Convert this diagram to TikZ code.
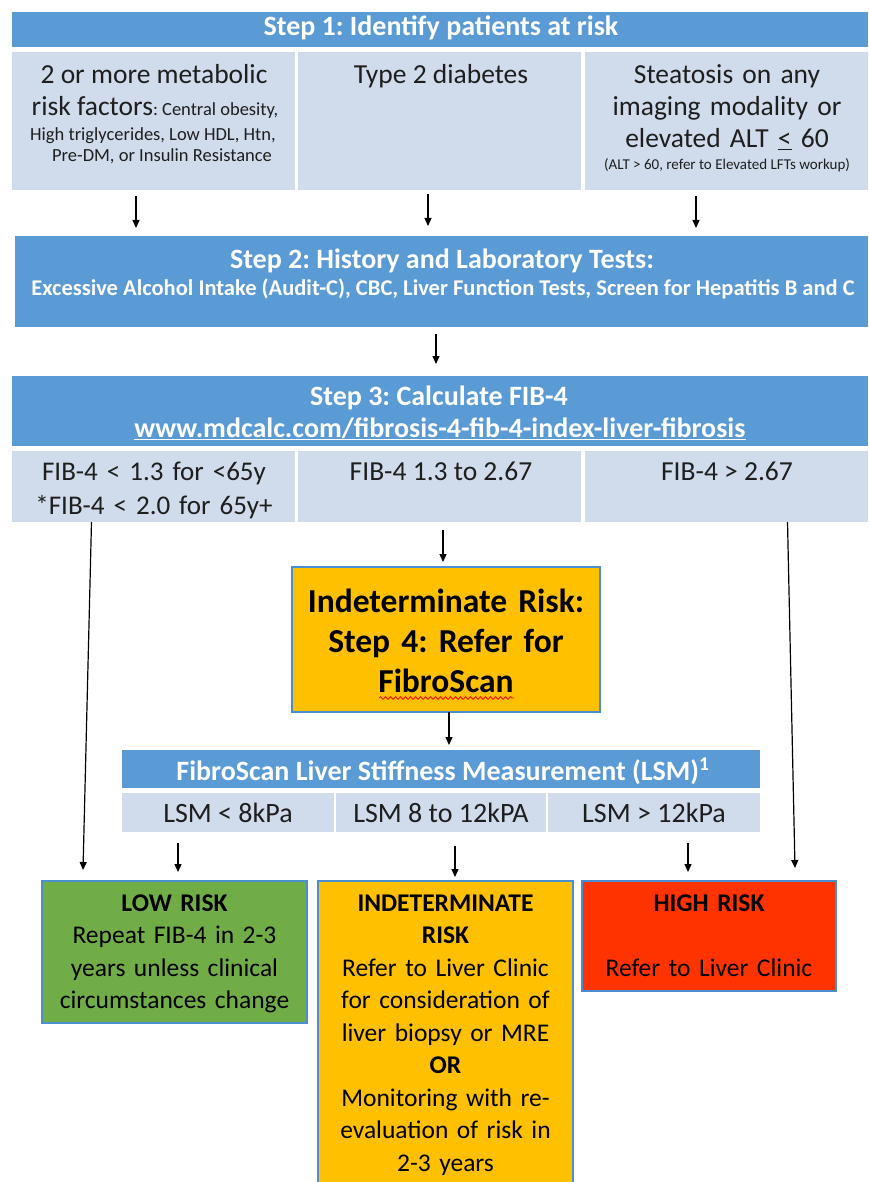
\documentclass[tikz,border=0pt]{standalone}
\usepackage{fontspec}
\setmainfont{Carlito}
\usetikzlibrary{arrows.meta,decorations.pathmorphing,fit}
\definecolor{hdr}{HTML}{5B9BD5}
\definecolor{cell}{HTML}{D0DCEC}
\definecolor{amber}{HTML}{FFC000}
\definecolor{lowgreen}{HTML}{70AD47}
\definecolor{highred}{HTML}{FF3300}
\definecolor{bord}{HTML}{4A90D0}
\definecolor{dtxt}{HTML}{1E1E1E}
\newcommand\fsz[2]{\fontsize{#1}{#2}\selectfont}
\frenchspacing
\begin{document}
\begin{tikzpicture}[x=1pt,y=-1pt,
  hbox/.style={fill=hdr,inner sep=0pt,outer sep=0pt},
  cbox/.style={fill=cell,inner sep=0pt,outer sep=0pt},
  obox/.style={draw=bord,line width=1.3pt,inner sep=0pt,outer sep=0pt},
  htxt/.style={anchor=base,inner sep=0pt,text=white,font=\bfseries\fsz{28}{33}},
  ctxt/.style={anchor=base,inner sep=0pt,text=dtxt,font=\fsz{27.5}{32.5}},
  mtxt/.style={anchor=base,inner sep=0pt,align=center,text width=300pt},
  arr/.style={line width=1.2pt,-{Triangle[length=8pt,width=7pt]}}]
\useasboundingbox (0,0) rectangle (868,1182);

% ---------- Step 1 ----------
\node[hbox,fit={(12,12) (868,47)}] (s1) {};
\node[htxt] (s1t) at (441,36) {Step 1: Identify patients at risk};
\node[cbox,fit={(12,52) (295,190)}] (r1a) {};
\node[cbox,fit={(298,52) (581,190)}] (r1b) {};
\node[cbox,fit={(585,52) (868,190)}] (r1c) {};
\node[ctxt] (r1a1) at (154,84) {2 or more metabolic};
\node[ctxt] (r1a2) at (155,116) {risk factors{\fsz{18.5}{21}: Central obesity,}};
\node[ctxt,font=\fsz{18.5}{21}] (r1a3) at (153,141) {High triglycerides, Low HDL, Htn,};
\node[ctxt,font=\fsz{18.5}{21}] (r1a4) at (162,162) {Pre-DM, or Insulin Resistance};
\node[ctxt] (r1b1) at (441,84) {Type 2 diabetes};
\node[ctxt,mtxt,font=\fsz{27.5}{32}] (r1c1) at (727,84) {Steatosis on any\\imaging modality or\\elevated ALT \underline{<} 60};
\node[ctxt,font=\fsz{15}{17}] (r1c4) at (727,170) {(ALT > 60, refer to Elevated LFTs workup)};

\coordinate (a1s) at (136,196); \coordinate (a1e) at (136,228);
\coordinate (a2s) at (428,194); \coordinate (a2e) at (428,226);
\coordinate (a3s) at (696,196); \coordinate (a3e) at (696,228);
\draw[arr] (a1s) -- (a1e);
\draw[arr] (a2s) -- (a2e);
\draw[arr] (a3s) -- (a3e);

% ---------- Step 2 ----------
\node[hbox,fit={(15,236) (868,327)}] (s2) {};
\node[htxt] (s2t) at (442,268) {Step 2: History and Laboratory Tests:};
\node[htxt,font=\bfseries\fsz{22.5}{25}] (s2s) at (443,295) {Excessive Alcohol Intake (Audit-C), CBC, Liver Function Tests, Screen for Hepatitis B and C};
\coordinate (a4s) at (436,334); \coordinate (a4e) at (436,364);
\draw[arr] (a4s) -- (a4e);

% ---------- Step 3 ----------
\node[hbox,fit={(12,376) (868,446)}] (s3) {};
\node[htxt] (s3t) at (439,405) {Step 3: Calculate FIB-4};
\node[htxt] (s3u) at (440,437) {\underline{www.mdcalc.com/fibrosis-4-fib-4-index-liver-fibrosis}};
\node[cbox,fit={(12,451) (295,522)}] (r3a) {};
\node[cbox,fit={(298,451) (581,522)}] (r3b) {};
\node[cbox,fit={(585,451) (868,522)}] (r3c) {};
\node[ctxt,mtxt,font=\fsz{27}{34}] (r3a1) at (154,480) {FIB-4 < 1.3 for <65y\\{*}FIB-4 < 2.0 for 65y+};
\node[ctxt] (r3b1) at (441,480) {FIB-4 1.3 to 2.67};
\node[ctxt] (r3c1) at (727,480) {FIB-4 > 2.67};

\coordinate (a5s) at (443,530); \coordinate (a5e) at (443,562);
\draw[arr] (a5s) -- (a5e);

% ---------- Step 4 ----------
\node[obox,fill=amber,fit={(292,567) (600,712)}] (s4) {};
\node[anchor=base,inner sep=0pt,align=center,text width=300pt,font=\bfseries\fsz{33.5}{40}] (s4t) at (446,612) {Indeterminate Risk:\\Step 4: Refer for\\FibroScan};
\draw[red,line width=0.8pt,decorate,decoration={snake,segment length=5pt,amplitude=1.3pt}] (379,698) -- (514,698);
\coordinate (a6e) at (449,745);
\draw[arr] (s4.south -| a6e) -- (a6e);

% ---------- FibroScan LSM ----------
\node[hbox,fit={(122,750) (760,788)}] (fs) {};
\node[htxt,font=\bfseries\fsz{28}{30}] (fst) at (443,780) {FibroScan Liver Stiffness Measurement (LSM)\textsuperscript{1}};
\node[cbox,fit={(122,793) (334,832)}] (l1) {};
\node[cbox,fit={(336,793) (546,832)}] (l2) {};
\node[cbox,fit={(548,793) (760,832)}] (l3) {};
\node[ctxt,font=\fsz{28}{30}] (l1t) at (228,822) {LSM < 8kPa};
\node[ctxt,font=\fsz{28}{30}] (l2t) at (441,822) {LSM 8 to 12kPA};
\node[ctxt,font=\fsz{28}{30}] (l3t) at (654,822) {LSM > 12kPa};

\coordinate (a9s) at (178,843); \coordinate (a9e) at (178,872);
\coordinate (a10s) at (455,846); \coordinate (a10e) at (455,877);
\coordinate (a11s) at (688,843); \coordinate (a11e) at (688,872);
\draw[arr] (a9s) -- (a9e);
\draw[arr] (a10s) -- (a10e);
\draw[arr] (a11s) -- (a11e);

% long connectors
\coordinate (a7e) at (83,870);
\coordinate (a8e) at (795,868);
\draw[arr] ([xshift=-62pt]r3a.south) -- (a7e);
\draw[arr] ([xshift=61pt]r3c.south) -- (a8e);

% ---------- Outcomes ----------
\node[obox,fill=lowgreen,fit={(42,881) (307,1023)}] (low) {};
\node[obox,fill=amber,fit={(318,881) (573,1195)}] (mid) {};
\node[obox,fill=highred,fit={(582,881) (836,991)}] (high) {};

\node[anchor=base,inner sep=0pt,align=center,text width=260pt,font=\fsz{25.5}{32.5}] (lowt) at (174.5,911) {\textbf{LOW RISK}\\Repeat FIB-4 in 2-3\\years unless clinical\\circumstances change};
\node[anchor=base,inner sep=0pt,align=center,text width=250pt,font=\fsz{25.5}{32.5}] (midt) at (445.5,911) {\textbf{INDETERMINATE}\\\textbf{RISK}\\Refer to Liver Clinic\\for consideration of\\liver biopsy or MRE\\\textbf{OR}\\Monitoring with re-\\evaluation of risk in\\2-3 years};
\node[anchor=base,inner sep=0pt,align=center,text width=250pt,font=\fsz{25.5}{32.5}] (hight) at (709,911) {\textbf{HIGH RISK}\\[32.5pt]Refer to Liver Clinic};
\end{tikzpicture}
\end{document}
